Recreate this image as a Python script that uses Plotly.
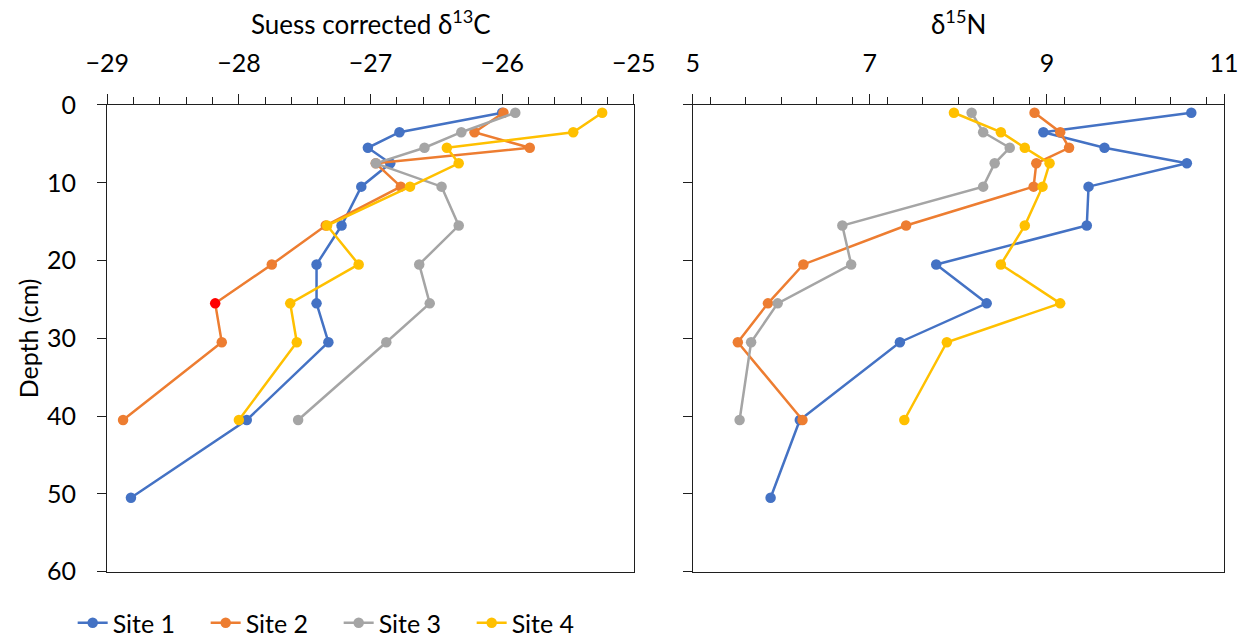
import plotly.graph_objects as go

# Sampling depths (cm)
depth = [1, 3.5, 5.5, 7.5, 10.5, 15.5, 20.5, 25.5, 30.5, 40.5, 50.5]

# Suess corrected d13C by site
c13_site1 = [-26.00, -26.78, -27.02, -26.85, -27.07, -27.22, -27.41, -27.41, -27.32, -27.94, -28.82]
c13_site2 = [-25.99, -26.21, -25.79, -26.96, -26.77, -27.34, -27.75, -28.18, -28.13, -28.88]
c13_site3 = [-25.90, -26.31, -26.59, -26.96, -26.46, -26.33, -26.63, -26.55, -26.88, -27.55]
c13_site4 = [-25.24, -25.46, -26.42, -26.33, -26.70, -27.33, -27.09, -27.61, -27.56, -28.00]

# d15N by site
n15_site1 = [10.63, 8.96, 9.65, 10.58, 9.47, 9.45, 7.75, 8.32, 7.34, 6.21, 5.88]
n15_site2 = [8.86, 9.15, 9.25, 8.88, 8.85, 7.41, 6.25, 5.85, 5.51, 6.24]
n15_site3 = [8.15, 8.28, 8.58, 8.41, 8.28, 6.69, 6.79, 5.96, 5.66, 5.53]
n15_site4 = [7.95, 8.48, 8.75, 9.03, 8.95, 8.75, 8.48, 9.15, 7.87, 7.39]

site_names = ["Site 1", "Site 2", "Site 3", "Site 4"]
site_colors = ["#4472C4", "#ED7D31", "#A5A5A5", "#FFC000"]
highlight_color = "#FF0000"
highlight_site, highlight_index = 1, 7  # Site 2 at 25.5 cm

c13_tickvals = [-29, -28, -27, -26, -25]
n15_tickvals = [5, 7, 9, 11]
depth_tickvals = [0, 10, 20, 30, 40, 50, 60]

FONT = "Lato, Carlito, Calibri, sans-serif"
AX = "#1f1f1f"
TXT = "#000000"
W, H = 1253, 637

fig = go.Figure()

c13_series = [c13_site1, c13_site2, c13_site3, c13_site4]
n15_series = [n15_site1, n15_site2, n15_site3, n15_site4]

for i, (name, col) in enumerate(zip(site_names, site_colors)):
    xs = c13_series[i]
    mcol = [col] * len(xs)
    if i == highlight_site:
        mcol[highlight_index] = highlight_color
    fig.add_trace(go.Scatter(
        x=xs, y=depth[:len(xs)], name=name, mode="lines+markers",
        line=dict(color=col, width=2.5),
        marker=dict(color=mcol, size=10.5, line=dict(width=0)),
        xaxis="x", yaxis="y", legendgroup=name, showlegend=True,
    ))

for i, (name, col) in enumerate(zip(site_names, site_colors)):
    xs = n15_series[i]
    fig.add_trace(go.Scatter(
        x=xs, y=depth[:len(xs)], name=name, mode="lines+markers",
        line=dict(color=col, width=2.5),
        marker=dict(color=col, size=10.5, line=dict(width=0)),
        xaxis="x2", yaxis="y2", legendgroup=name, showlegend=False,
    ))

tickfont = dict(family=FONT, size=25, color=TXT)

common_x = dict(
    side="top", showgrid=False, zeroline=False, showline=True, linecolor=AX,
    linewidth=1.3, mirror=True, ticks="outside", ticklen=10, tickwidth=1.3,
    tickcolor=AX, tickfont=tickfont, ticklabelstandoff=12, automargin=False,
)
common_y = dict(
    range=[60, 0], tickvals=depth_tickvals, showgrid=False, zeroline=False,
    showline=True, linecolor=AX, linewidth=1.3, mirror=True, ticks="outside",
    ticklen=9, tickwidth=1.3, tickcolor=AX, tickfont=tickfont,
    ticklabelstandoff=16, automargin=False,
)
overlay_x = dict(
    side="top", showline=False, showgrid=False, zeroline=False, ticks="inside",
    ticklen=5, tickwidth=1.3, tickcolor=AX, showticklabels=False, automargin=False,
)

y_dom = [0.1025, 0.8352]
left_dom = [0.0856, 0.5058]
right_dom = [0.5528, 0.9769]

fig.update_layout(
    width=W, height=H,
    margin=dict(l=0, r=0, t=0, b=0, autoexpand=False),
    paper_bgcolor="white", plot_bgcolor="white",
    font=dict(family=FONT, size=25, color=TXT),
    xaxis=dict(
        **common_x, domain=left_dom, range=[-29, -25], tickvals=c13_tickvals,
        anchor="y",
        minor=dict(dtick=0.2, ticks="outside", ticklen=7, tickwidth=1.2, tickcolor=AX),
    ),
    yaxis=dict(**common_y, domain=y_dom, anchor="x"),
    xaxis2=dict(
        **common_x, domain=right_dom, range=[5, 11], tickvals=n15_tickvals,
        anchor="y2",
        minor=dict(dtick=0.4, ticks="outside", ticklen=7, tickwidth=1.2, tickcolor=AX),
    ),
    yaxis2=dict(**common_y, domain=y_dom, anchor="x2", showticklabels=False),
    # inner halves of the crossing major ticks on the top axes
    xaxis3=dict(**overlay_x, overlaying="x", matches="x", anchor="y", tickvals=c13_tickvals),
    xaxis4=dict(**overlay_x, overlaying="x2", matches="x2", anchor="y2", tickvals=n15_tickvals),
    legend=dict(
        orientation="h", xref="container", yref="container",
        x=0.058, y=1 - 623 / H, xanchor="left", yanchor="middle",
        font=dict(family=FONT, size=25, color=TXT), entrywidth=88,
        itemwidth=30, bgcolor="rgba(0,0,0,0)", tracegroupgap=0,
    ),
    annotations=[
        dict(text="Suess corrected δ<sup>13</sup>C", xref="paper", yref="paper",
             x=sum(left_dom) / 2, y=1 - 22 / H, xanchor="center", yanchor="middle",
             showarrow=False, font=dict(family=FONT, size=26, color=TXT)),
        dict(text="δ<sup>15</sup>N", xref="paper", yref="paper",
             x=sum(right_dom) / 2, y=1 - 22 / H, xanchor="center", yanchor="middle",
             showarrow=False, font=dict(family=FONT, size=26, color=TXT)),
        dict(text="Depth (cm)", xref="paper", yref="paper", textangle=-90,
             x=28 / W, y=sum(y_dom) / 2, xanchor="center", yanchor="middle",
             showarrow=False, font=dict(family=FONT, size=25, color=TXT)),
    ],
)

fig.write_html("out.html")
